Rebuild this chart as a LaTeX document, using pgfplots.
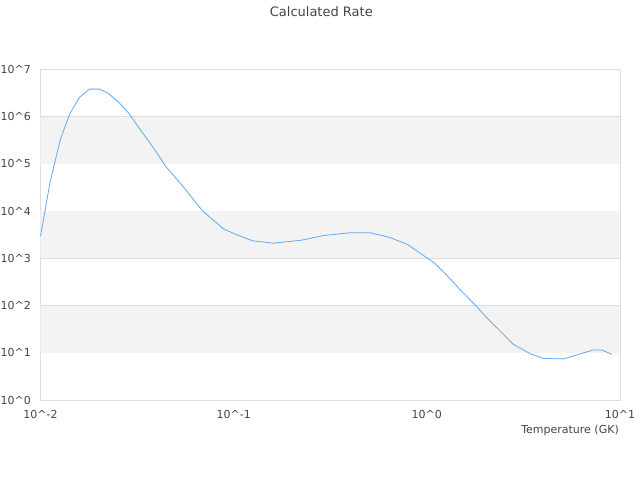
\documentclass[border=0pt]{standalone}
\usepackage{fontspec}
\setmainfont{DejaVu Sans}
\usepackage{pgfplots}
\pgfplotsset{compat=1.18}
\definecolor{txt}{HTML}{444444}
\definecolor{gridc}{HTML}{DDDDDD}
\definecolor{band}{HTML}{F3F3F3}
\definecolor{linec}{HTML}{62A8F2}
\begin{document}
\begin{tikzpicture}
\path (0bp,0bp) rectangle (640bp,480bp);
\begin{axis}[
  at={(40.5bp,80bp)}, anchor=south west,
  scale only axis, width=579.5bp, height=330.7bp,
  xmode=log, ymode=log,
  xmin=0.01, xmax=10, ymin=1, ymax=1e7,
  xtick={0.01,0.1,1,10},
  xticklabels={10\textasciicircum-2,10\textasciicircum-1,10\textasciicircum0,10\textasciicircum1},
  ytick={1,10,100,1000,10000,100000,1000000,10000000},
  yticklabels={10\textasciicircum0,10\textasciicircum1,10\textasciicircum2,10\textasciicircum3,10\textasciicircum4,10\textasciicircum5,10\textasciicircum6,10\textasciicircum7},
  minor tick num=0, major tick length=0pt, minor tick length=0pt,
  extra x ticks={}, 
  ymajorgrids, major grid style={gridc, line width=0.75bp},
  axis line style={gridc, line width=0.75bp},
  tick label style={font=\fontsize{11bp}{13bp}\selectfont, text=txt, inner sep=0pt},
  yticklabel style={anchor=east, xshift=-9.5bp},
  xticklabel style={anchor=north, yshift=-10bp},
  axis on top=false,
  clip=true,
]
\addplot[fill=band, draw=none, forget plot] coordinates {(0.01,10) (10,10) (10,100) (0.01,100)} -- cycle;
\addplot[fill=band, draw=none, forget plot] coordinates {(0.01,1000) (10,1000) (10,10000) (0.01,10000)} -- cycle;
\addplot[fill=band, draw=none, forget plot] coordinates {(0.01,100000) (10,100000) (10,1000000) (0.01,1000000)} -- cycle;
\addplot[linec, line width=0.8bp, mark=none] coordinates {
(0.01,2884) (0.01122,41690) (0.01268,331100) (0.01422,1175000) (0.01596,2570000)
(0.01791,3802000) (0.02018,3802000) (0.02228,3162000) (0.02529,2042000) (0.02864,1175000)
(0.03199,616600) (0.03917,195000) (0.04457,87100) (0.05495,32360) (0.06368,15140)
(0.06918,10000) (0.08872,4169) (0.1035,3162) (0.1253,2344) (0.1603,2089)
(0.2228,2399) (0.2911,3020) (0.3999,3467) (0.5082,3467) (0.6442,2754)
(0.7962,1950) (0.9226,1288) (1.094,794.3) (1.242,478.6) (1.500,208.9)
(1.811,95.5) (2.009,58.9) (2.382,29.5) (2.805,15.1) (3.428,9.55)
(4.009,7.59) (5.093,7.41) (6.152,9.33) (7.278,11.48) (8.035,11.48) (9.057,9.33)
};
\end{axis}
\node[anchor=base, inner sep=0pt, text=txt, font=\fontsize{13bp}{15bp}\selectfont] at (321.3bp,463.5bp) {Calculated Rate};
\node[anchor=base east, inner sep=0pt, text=txt, font=\fontsize{11bp}{13bp}\selectfont] at (619bp,46bp) {Temperature (GK)};
\end{tikzpicture}
\end{document}
